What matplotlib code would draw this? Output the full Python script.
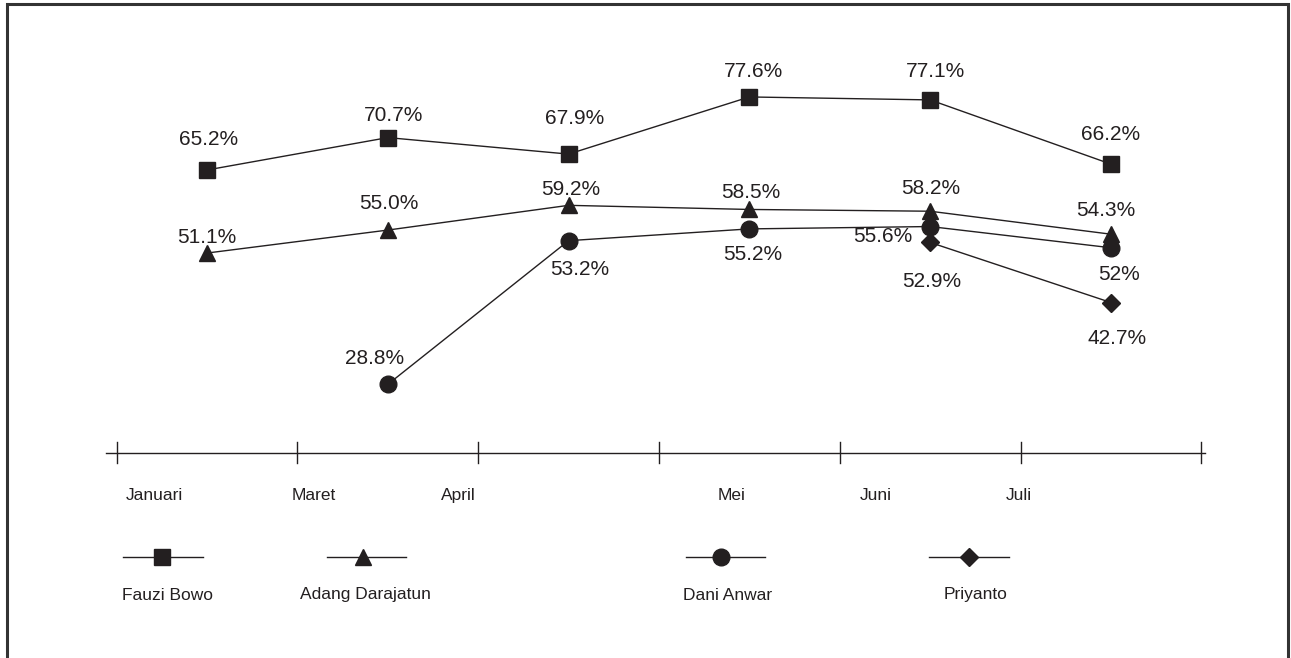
import numpy as np
import matplotlib
matplotlib.use("Agg")
import matplotlib.pyplot as plt
from matplotlib.lines import Line2D

plt.rcParams['font.family'] = ['Liberation Sans', 'DejaVu Sans']

months = ["Januari", "Maret", "April", "Mei", "Juni", "Juli"]
fauzi = [65.2, 70.7, 67.9, 77.6, 77.1, 66.2]
adang = [51.1, 55.0, 59.2, 58.5, 58.2, 54.3]
dani = [np.nan, 28.8, 53.2, 55.2, 55.6, 52.0]
priyanto = [np.nan, np.nan, np.nan, np.nan, 52.9, 42.7]

fauzi_labels = ["65.2%", "70.7%", "67.9%", "77.6%", "77.1%", "66.2%"]
adang_labels = ["51.1%", "55.0%", "59.2%", "58.5%", "58.2%", "54.3%"]
dani_labels = ["", "28.8%", "53.2%", "55.2%", "55.6%", "52%"]
priyanto_labels = ["", "", "", "", "52.9%", "42.7%"]

names = ["Fauzi Bowo", "Adang Darajatun", "Dani Anwar", "Priyanto"]

# label offsets in pixels (dx, dy up) - layout only
fauzi_off = [(2, 32), (6, 24), (6, 38), (4, 27), (5, 30), (0, 32)]
adang_off = [(0, 18), (1, 29), (2, 18), (1, 19), (1, 25), (-5, 26)]
dani_off = [(0, 0), (-13, 28), (11, -27), (3, -24), (-47, -8), (8, -25)]
priyanto_off = [(0, 0), (0, 0), (0, 0), (0, 0), (2, -37), (6, -34)]

ink = "#231f20"
W, H = 1291, 658

fig = plt.figure(figsize=(W / 100, H / 100), dpi=100)
ax = fig.add_axes([0, 0, 1, 1])
ax.set_xlim(-1.145, 5.996)
ax.set_ylim(-17.65, 94.06)
ax.set_axis_off()

x = np.arange(len(months))
series = [
    (fauzi, fauzi_labels, fauzi_off, "s", 11.5),
    (adang, adang_labels, adang_off, "^", 12),
    (dani, dani_labels, dani_off, "o", 12),
    (priyanto, priyanto_labels, priyanto_off, "D", 9),
]

for vals, labs, offs, mk, ms in series:
    ax.plot(x, vals, color=ink, lw=1.0, marker=mk, ms=ms,
            markerfacecolor=ink, markeredgecolor=ink, zorder=3)
    for xi, v, lab, (dx, dy) in zip(x, vals, labs, offs):
        if lab:
            ax.annotate(lab, (xi, v), xytext=(dx, dy), textcoords="offset pixels",
                        ha="center", va="center_baseline", fontsize=15,
                        color=ink, zorder=4)

# category axis line
axis_y = 17.15
ax.plot([-0.56, 5.52], [axis_y, axis_y], color=ink, lw=1.0)
for t in np.arange(-0.5, 5.6, 1.0):
    ax.plot([t, t], [axis_y + 1.9, axis_y - 1.7], color=ink, lw=1.0)

month_shift = [-0.29, -0.41, -0.61, -0.10, -0.30, -0.51]
for xi, m, s in zip(x, months, month_shift):
    ax.text(xi + s, 10.0, m, ha="center", va="center", fontsize=12.5, color=ink)

# legend below the axis
leg_line = [(123, 203), (327, 406), (686, 765), (929, 1009)]
leg_mark = [162, 363, 721, 969]
leg_text = [167, 365, 728, 976]
for (x0, x1), xm, xt, name, (_, _, _, mk, ms) in zip(leg_line, leg_mark, leg_text, names, series):
    yl = 1 - 557 / H
    fig.add_artist(Line2D([x0 / W, x1 / W], [yl, yl], color=ink, lw=1.0,
                          transform=fig.transFigure))
    fig.add_artist(Line2D([xm / W], [yl], marker=mk, ms=ms, color=ink,
                          markerfacecolor=ink, transform=fig.transFigure))
    fig.text(xt / W, 1 - 595 / H, name, ha="center", va="center",
             fontsize=12.5, color=ink)

# frame (no bottom edge)
fl, fr, ft = 6.5 / W, 1287.5 / W, 1 - 4 / H
fig.add_artist(Line2D([fl, fl, fr, fr], [0, ft, ft, 0], color="#333333", lw=2.2,
                      transform=fig.transFigure, solid_joinstyle="miter"))

fig.savefig("out.png", dpi=100)
